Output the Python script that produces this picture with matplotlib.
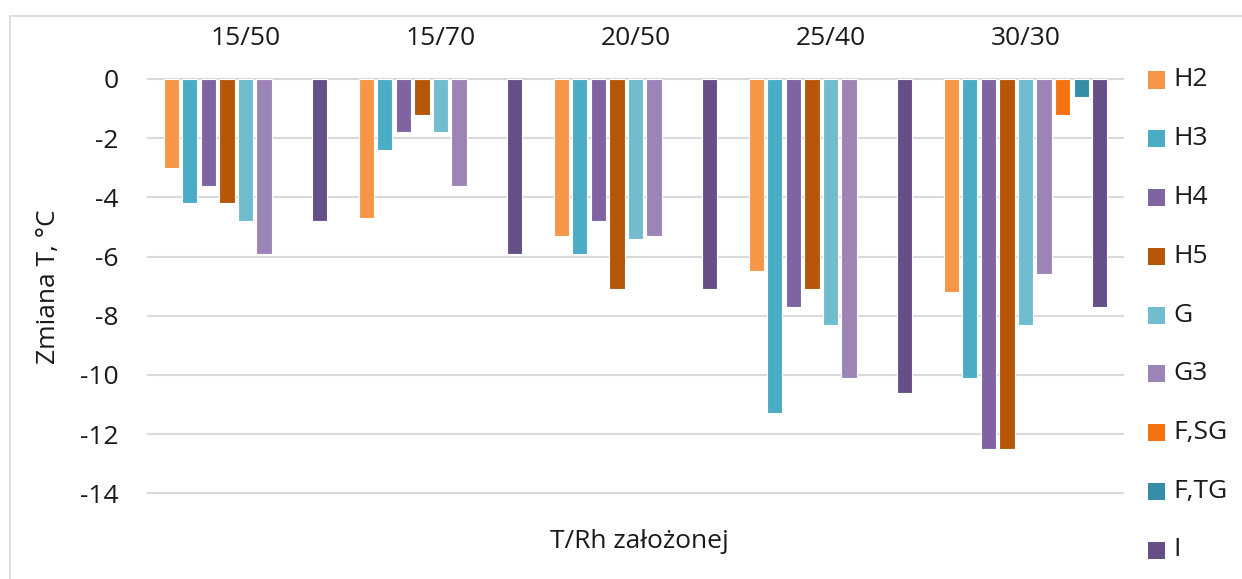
import matplotlib

matplotlib.use("Agg")

import matplotlib.pyplot as plt
from matplotlib.patches import Rectangle
import numpy as np

plt.rcParams["font.family"] = ["Open Sans", "DejaVu Sans"]
plt.rcParams["axes.unicode_minus"] = False

CONDITIONS = ["15/50", "15/70", "20/50", "25/40", "30/30"]
SERIES = ["H2", "H3", "H4", "H5", "G", "G3", "F,SG", "F,TG", "I"]
COLORS = ["#F79646", "#4BACC6", "#8064A2", "#B65708", "#72BCD0",
          "#9C85B6", "#F4730E", "#368DA8", "#664F86"]

nan = np.nan
H2 = [-3.0, -4.7, -5.3, -6.5, -7.2]
H3 = [-4.2, -2.4, -5.9, -11.3, -10.1]
H4 = [-3.6, -1.8, -4.8, -7.7, -12.5]
H5 = [-4.2, -1.2, -7.1, -7.1, -12.5]
G = [-4.8, -1.8, -5.4, -8.3, -8.3]
G3 = [-5.9, -3.6, -5.3, -10.1, -6.6]
F_SG = [nan, nan, nan, nan, -1.2]
F_TG = [nan, nan, nan, nan, -0.6]
I = [-4.8, -5.9, -7.1, -10.6, -7.7]
VALUES = [H2, H3, H4, H5, G, G3, F_SG, F_TG, I]

FS = 19
TXT = "#1a1a1a"

W, H = 1242, 579
fig = plt.figure(figsize=(W / 100, H / 100), dpi=100)
ax = fig.add_axes([148 / W, 1 - 493.3 / H, (1123 - 148) / W, (493.3 - 79) / H])

x = np.arange(len(CONDITIONS))
slot = 0.0951
for j, (name, vals, color) in enumerate(zip(SERIES, VALUES, COLORS)):
    ax.bar(x + (j - 4) * slot, vals, width=0.078, color=color,
           edgecolor="white", linewidth=0.8, zorder=3, label=name)

ax.set_xlim(-0.5, len(CONDITIONS) - 0.5)
ax.set_ylim(-14, 0)
ax.set_yticks(np.arange(-14, 1, 2))
ax.yaxis.grid(True, color="#D9D9D9", linewidth=1.5, zorder=0)
ax.set_axisbelow(True)
for s in ax.spines.values():
    s.set_visible(False)
for t in ax.get_ygridlines():
    t.set_clip_on(False)

ax.xaxis.tick_top()
ax.set_xticks(x)
ax.set_xticklabels(CONDITIONS)
ax.tick_params(axis="x", length=0, pad=20, labelsize=FS, labelcolor=TXT)
ax.tick_params(axis="y", length=0, pad=21, labelsize=FS, labelcolor=TXT)

fig.text(49 / W, 1 - 287 / H, "Zmiana T, °C", rotation=90, fontsize=FS,
         ha="center", va="center", color=TXT)
fig.text(639 / W, 1 - 541 / H, "T/Rh założonej", fontsize=FS,
         ha="center", va="center", color=TXT)

# legend column on the right
for k, (name, color) in enumerate(zip(SERIES, COLORS)):
    yc = 80 + k * 58.75
    fig.add_artist(Rectangle((1148 / W, 1 - (yc + 8.5) / H), 17 / W, 17 / H,
                             transform=fig.transFigure, facecolor=color,
                             edgecolor="none"))
    fig.text(1173 / W, 1 - yc / H, name, fontsize=FS, ha="left",
             va="center", color=TXT)

# chart frame (left and top edges visible)
fig.add_artist(plt.Line2D([9.5 / W, 9.5 / W], [0, 1 - 15.5 / H],
                          transform=fig.transFigure, color="#D9D9D9", linewidth=1.2))
fig.add_artist(plt.Line2D([9.5 / W, 1], [1 - 15.5 / H, 1 - 15.5 / H],
                          transform=fig.transFigure, color="#D9D9D9", linewidth=1.2))

fig.savefig("out.png", dpi=100)
